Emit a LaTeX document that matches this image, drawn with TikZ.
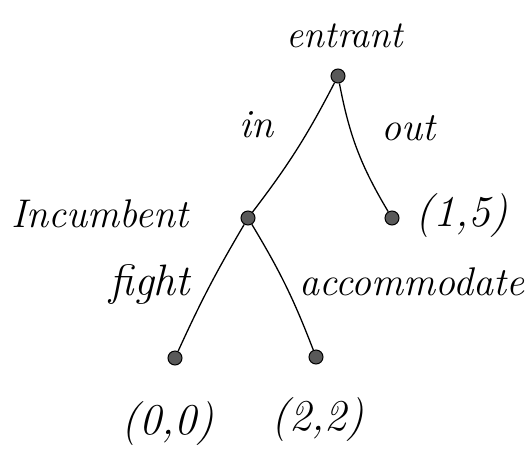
\documentclass[tikz,border=0pt]{standalone}
\usepackage{fontspec}
\setmainfont{Latin Modern Roman}
\usepackage{tikz}
\begin{document}
\begin{tikzpicture}[x=1pt,y=-1pt,
  dot/.style={circle,fill=black!65,draw=black,line width=1pt,inner sep=0pt,minimum size=14pt},
  lbl/.style={font=\fontsize{40}{40}\selectfont\itshape,inner sep=0pt},
  pay/.style={font=\fontsize{44}{44}\selectfont\itshape,inner sep=0pt},
  edge/.style={line width=1.3pt,black}]
\useasboundingbox (0,0) rectangle (529,458);
\node[dot] (root) at (338,76) {};
\node[dot] (inc) at (248,218) {};
\node[dot] (out) at (392,218) {};
\node[dot] (f) at (175,358) {};
\node[dot] (a) at (316,357) {};
\node[lbl,font=\fontsize{38}{38}\selectfont\itshape] (tentrant) at (345,36) {entrant};
\node[lbl] (tin) at (256,125) {in};
\node[lbl] (tout) at (408,128) {out};
\node[lbl] (tinc) at (100,214) {Incumbent};
\node[pay] (tout5) at (462,216) {(1,5)};
\node[lbl,font=\fontsize{44}{44}\selectfont\itshape] (tfight) at (150,284) {fight};
\node[lbl] (tacc) at (412,282) {accommodate};
\node[pay] (t00) at (168,424) {(0,0)};
\node[pay] (t22) at (318,420) {(2,2)};
\draw[edge] (root) to[bend left=5] (inc);
\draw[edge] (root) to[bend left=-10] (out);
\draw[edge] (inc) to[bend left=-3] (f);
\draw[edge] (inc) to[bend left=5] (a);
\end{tikzpicture}
\end{document}
